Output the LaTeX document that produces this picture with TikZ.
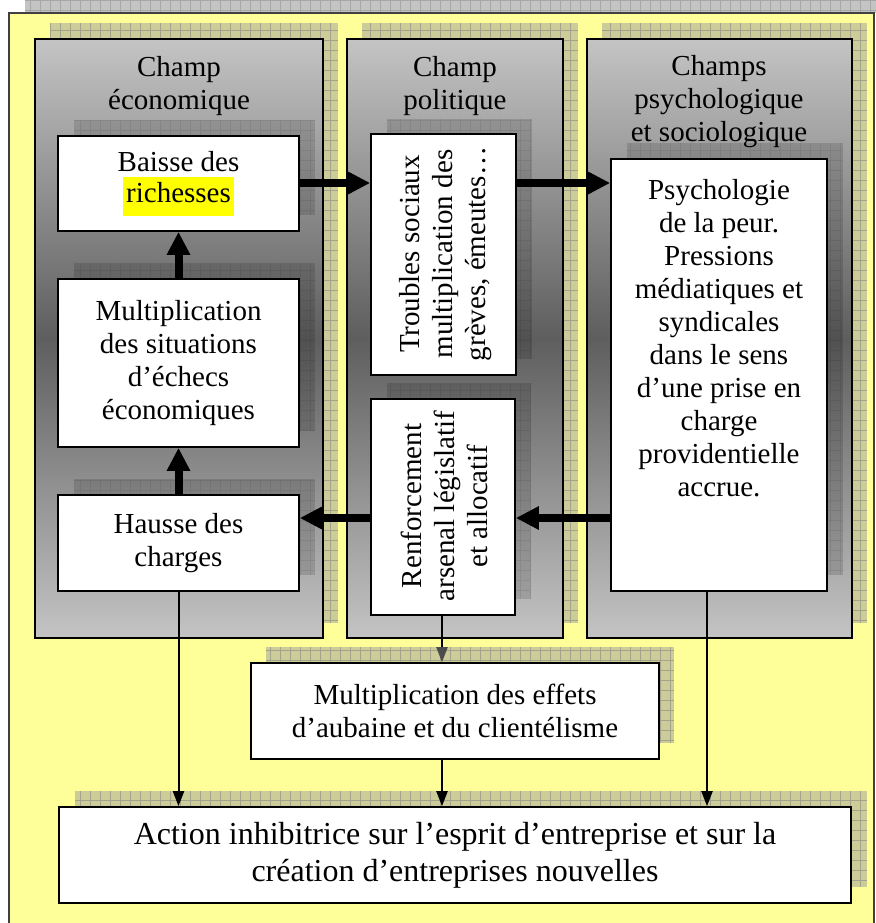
\documentclass[tikz,border=0pt]{standalone}
\usepackage{fontspec}
\setmainfont{Liberation Serif}
\usetikzlibrary{arrows.meta,calc}
\definecolor{bgyellow}{HTML}{FFFF99}
\definecolor{olivesh}{HTML}{CCCC99}
\definecolor{olivegrid}{HTML}{A3A38C}
\definecolor{topgray}{HTML}{C4C4C4}
\definecolor{midgray}{HTML}{5E5E5E}
\definecolor{hl}{HTML}{FFFF00}
\newcommand\hatchsh[5]{%
  \fill[#5] (#1,#2) rectangle (#3,#4);
  \begin{scope}
    \clip (#1,#2) rectangle (#3,#4);
    \draw[gridln] (#1,#2) grid[step=10pt] (#3,#4);
  \end{scope}}
\newcommand\darksh[4]{%
  \fill[black,opacity=0.13] (#1,#2) rectangle (#3,#4);
  \begin{scope}
    \clip (#1,#2) rectangle (#3,#4);
    \draw[black,opacity=0.08,line width=0.5pt] (#1,#2) grid[step=10pt] (#3,#4);
  \end{scope}}
\begin{document}
\begin{tikzpicture}[x=1pt,y=-1pt,
  gridln/.style={olivegrid,line width=0.5pt},
  field/.style={draw=black,line width=2pt,top color=topgray,bottom color=topgray,middle color=midgray},
  wbox/.style={draw=black,line width=1.6pt,fill=white,inner sep=0pt,align=center,font=\fontsize{29}{33}\selectfont},
  ttl/.style={align=center,font=\fontsize{29}{33}\selectfont},
  txt/.style={align=center,font=\fontsize{29}{33}\selectfont,inner sep=0pt},
  bigarrow/.style={line width=8pt,-{Triangle[width=22pt,length=23pt]}},
  thinarrow/.style={line width=2pt,-{Triangle[width=11pt,length=15pt]}},
]
\useasboundingbox (0,0) rectangle (875,923);
% outer frame and its shadow
\fill[topgray] (25,-5) rectangle (892,13);
\begin{scope}\clip (25,-5) rectangle (892,13);
\draw[black!35,line width=0.5pt] (25,-5) grid[step=10pt] (892,13);\end{scope}
\draw[fill=bgyellow,draw=black!75,line width=1.5pt] (9,13) rectangle (874,940);
% column shadows
\hatchsh{50}{23}{338}{623}{olivesh}
\hatchsh{362}{23}{578}{623}{olivesh}
\hatchsh{602}{23}{867}{623}{olivesh}
% columns
\node[field,minimum width=288pt,minimum height=599pt,inner sep=0pt] (colA) at (179,338.5) {};
\node[field,minimum width=216pt,minimum height=599pt,inner sep=0pt] (colB) at (455,338.5) {};
\node[field,minimum width=265pt,minimum height=599pt,inner sep=0pt] (colC) at (719.5,338.5) {};
% titles
\node[ttl] (tA) at (179,86) {Champ\\économique};
\node[ttl] (tB) at (455,86) {Champ\\politique};
\node[ttl] (tC) at (719,102) {Champs\\psychologique\\et sociologique};
% inner shadows
\darksh{74}{120}{315}{215}
\darksh{74}{263}{315}{431}
\darksh{74}{479}{315}{575}
\darksh{387}{119}{532}{359}
\darksh{387}{383}{531}{599}
\darksh{627}{143}{843}{575}
% column A boxes
\node[wbox,minimum width=241pt,minimum height=95pt] (baisse) at (178.5,183.5)
  {Baisse des\\[-2pt]{\setlength\fboxsep{3pt}\colorbox{hl}{\strut richesses}}};
\node[wbox,minimum width=241pt,minimum height=168pt] (multi) at (178.5,363)
  {Multiplication\\des situations\\d’échecs\\économiques};
\node[wbox,minimum width=241pt,minimum height=96pt] (hausse) at (178.5,543)
  {Hausse des\\charges};
% column B boxes
\node[wbox,minimum width=145pt,minimum height=241pt] (troubles) at (443.5,254.5) {};
\node[txt,rotate=90] (ttroubles) at (446,254) {Troubles sociaux\\multiplication des\\grèves, émeutes…};
\node[wbox,minimum width=144pt,minimum height=216pt] (renf) at (443,507) {};
\node[txt,rotate=90] (trenf) at (444,506) {Renforcement\\arsenal législatif\\et allocatif};
% column C box
\node[wbox,minimum width=216pt,minimum height=432pt] (psy) at (719,375) {};
\node[txt] (tpsy) at (719,338) {Psychologie\\de la peur.\\Pressions\\médiatiques et\\syndicales\\dans le sens\\d’une prise en\\charge\\providentielle\\accrue.};
% lower boxes
\hatchsh{266}{647}{674}{743}{olivesh}
\node[wbox,minimum width=408pt,minimum height=96pt] (effets) at (455,711)
  {Multiplication des effets\\d’aubaine et du clientélisme};
\hatchsh{75}{791}{867}{887}{olivesh}
\node[wbox,minimum width=792pt,minimum height=96pt,font=\fontsize{32}{37}\selectfont] (action) at (455,855)
  {Action inhibitrice sur l’esprit d’entreprise et sur la\\création d’entreprises nouvelles};
% thick arrows
\coordinate (rowA) at (0,183);
\coordinate (rowB) at (0,518);
\draw[bigarrow] (baisse.east |- rowA) -- (troubles.west |- rowA);
\draw[bigarrow] (troubles.east |- rowA) -- (psy.west |- rowA);
\draw[bigarrow] (psy.west |- rowB) -- (renf.east |- rowB);
\draw[bigarrow] (renf.west |- rowB) -- (hausse.east |- rowB);
\draw[bigarrow] (hausse.north) -- (multi.south);
\draw[bigarrow] (multi.north) -- (baisse.south);
% thin arrows
\coordinate (xmid) at (442,0);
\coordinate (xpsy) at (707,0);
\draw[line width=2pt,-{Triangle[width=11pt,length=15pt,color=black!70,fill=black!70]}] (xmid |- renf.south) -- (xmid |- effets.north);
\draw[thinarrow] (hausse.south) -- (hausse.south |- action.north);
\draw[thinarrow] (xmid |- effets.south) -- (xmid |- action.north);
\draw[thinarrow] (xpsy |- psy.south) -- (xpsy |- action.north);
\end{tikzpicture}
\end{document}
